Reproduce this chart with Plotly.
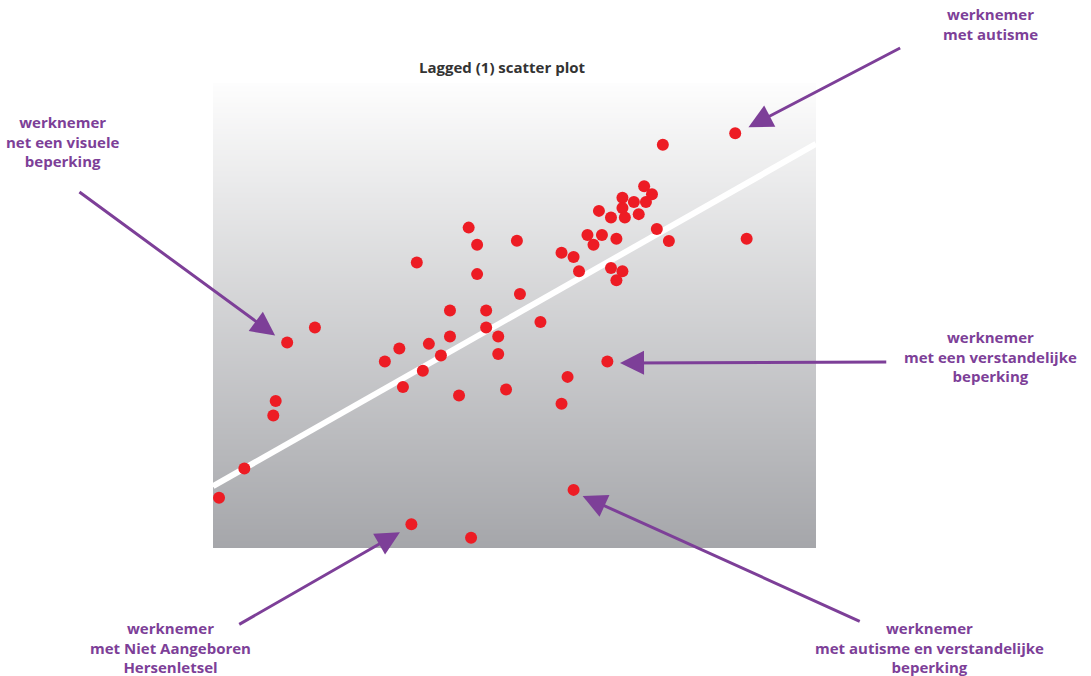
import numpy as np
import plotly.graph_objects as go

# ---- data (arbitrary 0-100 units) ----
x_vals = [86.6, 74.6, 71.5, 72.8, 67.9, 69.8, 71.8, 64.0, 67.9, 66.0,
          68.3, 70.6, 42.4, 73.6, 62.1, 64.5, 66.9, 43.8, 50.4, 63.1,
          75.6, 88.5, 57.8, 59.8, 33.8, 60.7, 66.0, 67.9, 66.9, 43.8,
          50.9, 39.3, 45.3, 16.9, 54.3, 12.3, 45.3, 39.3, 47.3, 35.8,
          30.9, 47.3, 37.8, 28.5, 65.4, 34.8, 58.8, 31.5, 48.6, 40.8,
          10.4, 57.8, 10.0, 5.2, 1.0, 59.8, 32.9, 42.8]
y_vals = [89.2, 86.7, 77.8, 76.1, 75.3, 74.4, 74.4, 72.5, 73.1, 71.1,
          71.1, 71.8, 68.9, 68.6, 67.3, 67.3, 66.5, 65.2, 66.1, 65.2,
          66.0, 66.5, 63.5, 62.6, 61.4, 59.5, 60.2, 59.5, 57.6, 58.9,
          54.6, 51.1, 51.1, 47.4, 48.6, 44.2, 47.4, 45.5, 45.5, 43.9,
          42.9, 41.7, 41.4, 40.1, 40.1, 38.1, 36.8, 34.6, 34.1, 32.8,
          31.6, 31.0, 28.5, 17.1, 10.8, 12.5, 5.1, 2.2]

fit_intercept = 13.3
fit_slope = 0.736
x_range = [0, 100]
y_range = [0, 100]

title_text = "Lagged (1) scatter plot"

# labels: (text, paper x, paper y)
label_texts = [
    "werknemer<br>met autisme",
    "werknemer<br>net een visuele<br>beperking",
    "werknemer<br>met een verstandelijke<br>beperking",
    "werknemer<br>met Niet Aangeboren<br>Hersenletsel",
    "werknemer<br>met autisme en verstandelijke<br>beperking",
]
label_x = [1.289, -0.250, 1.289, -0.070, 1.189]
label_y = [1.127, 0.875, 0.411, -0.215, -0.215]

# arrows: tip (x, y) and tail (ax, ay) in data units
arrow_tip_x = [88.8, 10.3, 67.5, 31.0, 61.3]
arrow_tip_y = [90.5, 45.7, 39.8, 3.4, 11.2]
arrow_tail_x = [114.2, -22.4, 111.9, 4.1, 107.5]
arrow_tail_y = [107.7, 76.8, 40.0, -16.6, -15.9]

PURPLE = "#7d3f98"
RED = "#ed1c24"
FONT = "Open Sans"

fig = go.Figure()

# gradient background via heatmap
gy = np.linspace(y_range[0] - 5, y_range[1] + 5, 111)
fig.add_trace(go.Heatmap(
    x=[x_range[0] - 10, x_range[1] + 10], y=gy,
    z=[[v, v] for v in gy], zmin=y_range[0], zmax=y_range[1],
    zsmooth="best", showscale=False, hoverinfo="skip",
    colorscale=[[0, "#a5a6aa"], [1, "#fdfdfd"]],
))

# regression line
fig.add_trace(go.Scatter(
    x=x_range, y=[fit_intercept + fit_slope * v for v in x_range],
    mode="lines", line=dict(color="white", width=6), hoverinfo="skip",
))

# points
fig.add_trace(go.Scatter(
    x=x_vals, y=y_vals, mode="markers",
    marker=dict(color=RED, size=12, line=dict(width=0)),
    cliponaxis=False,
))

annotations = []
for t, px, py in zip(label_texts, label_x, label_y):
    annotations.append(dict(
        text="<b>" + t + "</b>", x=px, y=py, xref="paper", yref="paper",
        showarrow=False, align="center", xanchor="center", yanchor="middle",
        font=dict(family=FONT, size=15, color=PURPLE),
    ))
for tx, ty, ax, ay in zip(arrow_tip_x, arrow_tip_y, arrow_tail_x, arrow_tail_y):
    annotations.append(dict(
        text="", x=tx, y=ty, ax=ax, ay=ay, xref="x", yref="y",
        axref="x", ayref="y", showarrow=True, arrowhead=2,
        arrowsize=1.6, arrowwidth=3, arrowcolor=PURPLE, standoff=0,
    ))
annotations.append(dict(
    text="<b>" + title_text + "</b>", x=(502 - 213) / 603, y=(548 - 67) / 465,
    xref="paper", yref="paper", showarrow=False,
    xanchor="center", yanchor="middle",
    font=dict(family=FONT, size=15, color="#333333"),
))

fig.update_layout(
    width=1091, height=676,
    margin=dict(l=213, r=275, t=83, b=128),
    paper_bgcolor="white", plot_bgcolor="white",
    showlegend=False,
    annotations=annotations,
    xaxis=dict(range=x_range, visible=False, fixedrange=True),
    yaxis=dict(range=y_range, visible=False, fixedrange=True),
)

# remove the page's default body margin so the figure sits at the top-left
fig.write_html("out.html", config={"displayModeBar": False},
               post_script="document.body.style.margin='0';")
